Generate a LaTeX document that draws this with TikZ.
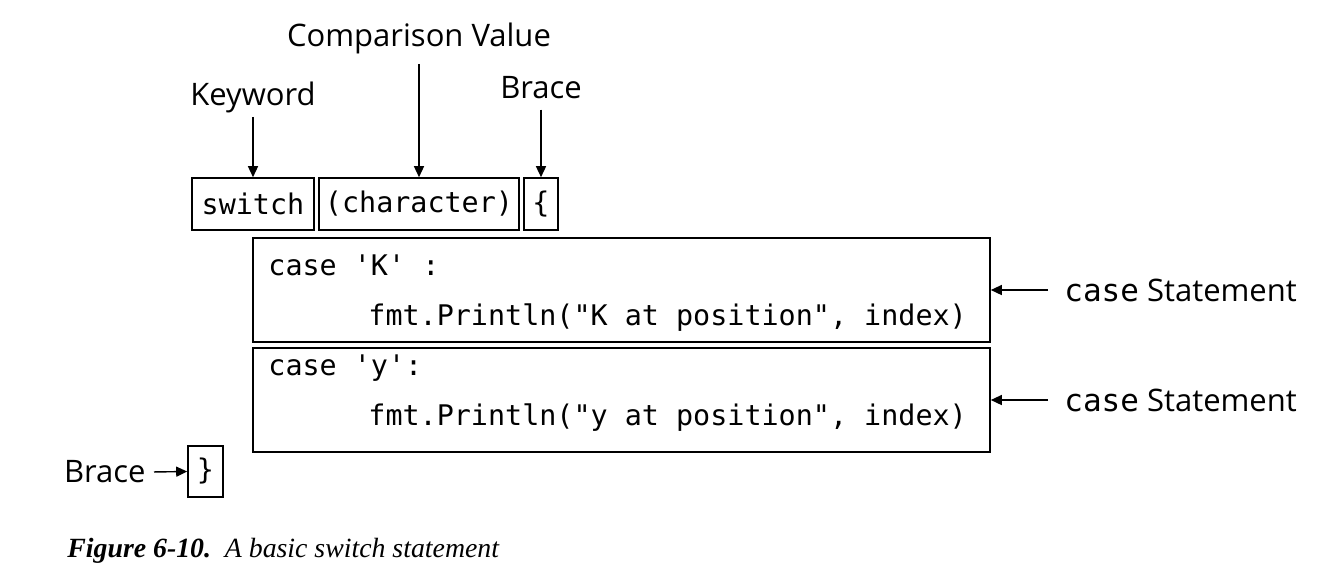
\documentclass[tikz,border=0pt]{standalone}
\usepackage{fontspec}
\setmonofont{DejaVu Sans Mono}
\newfontfamily\labelfont{Open Sans}
\newfontfamily\capfont{Liberation Serif}
\usetikzlibrary{arrows.meta,positioning}

\begin{document}
\begin{tikzpicture}[x=0.5pt,y=-0.5pt,
  box/.style={draw,line width=0.8pt,inner sep=0pt,font=\ttfamily\fontsize{14.2}{16}\selectfont},
  code/.style={anchor=west,inner sep=0pt,font=\ttfamily\fontsize{14.2}{16}\selectfont},
  lbl/.style={font=\labelfont\fontsize{15.5}{18}\selectfont,inner sep=2pt},
  arr/.style={-{Triangle[length=5.5pt,width=5pt]},line width=0.7pt}]

  \useasboundingbox (0,0) rectangle (1325,586);

  % first line
  \node[box,minimum width=61pt,minimum height=26pt] (kw) at (253,204) {switch};
  \node[box,minimum width=100pt,minimum height=26pt] (val) at (419,204) {(character)};
  \node[box,minimum width=17pt,minimum height=26pt] (open) at (541,204) {\{};

  % case boxes
  \node[box,minimum width=368.5pt,minimum height=52pt] (casek) at (621.5,290) {};
  \node[box,minimum width=368.5pt,minimum height=52pt] (casey) at (621.5,400) {};
  \node[code] (k1) at (268,265) {case 'K' :};
  \node[code] (k2) at (368,318) {fmt.Println("K at position", index)};
  \node[code] (y1) at (268,368) {case 'y':};
  \node[code] (y2) at (368,418) {fmt.Println("y at position", index)};

  \node[box,minimum width=17.5pt,minimum height=25.5pt] (close) at (205.5,471.5) {\}};

  % labels
  \node[lbl] (keyword) at (253,97) {Keyword};
  \node[lbl] (compare) at (419,38) {Comparison Value};
  \node[lbl] (bracetop) at (541,88) {Brace};
  \node[lbl,anchor=west] (stmt1) at (1060,290) {\ttfamily case\labelfont\ Statement};
  \node[lbl,anchor=west] (stmt2) at (1060,400) {\ttfamily case\labelfont\ Statement};
  \node[lbl,anchor=east] (bracebot) at (150,472) {Brace};

  \draw[arr] (keyword) -- (kw);
  \draw[arr,shorten <=3pt] (compare) -- (val);
  \draw[arr,shorten <=3pt] (bracetop) -- (open);
  \draw[arr,shorten <=6pt] (stmt1.west) -- (casek.east);
  \draw[arr,shorten <=6pt] (stmt2.west) -- (casey.east);
  \draw[arr,shorten <=2pt] (bracebot.east) -- (close.west);

  % caption
  \node[anchor=west,inner sep=0pt,font=\capfont\fontsize{13.9}{16}\selectfont] (cap) at (67,551)
    {\textbf{\textit{Figure 6-10.}}\enspace\textit{A basic switch statement}};
\end{tikzpicture}
\end{document}
